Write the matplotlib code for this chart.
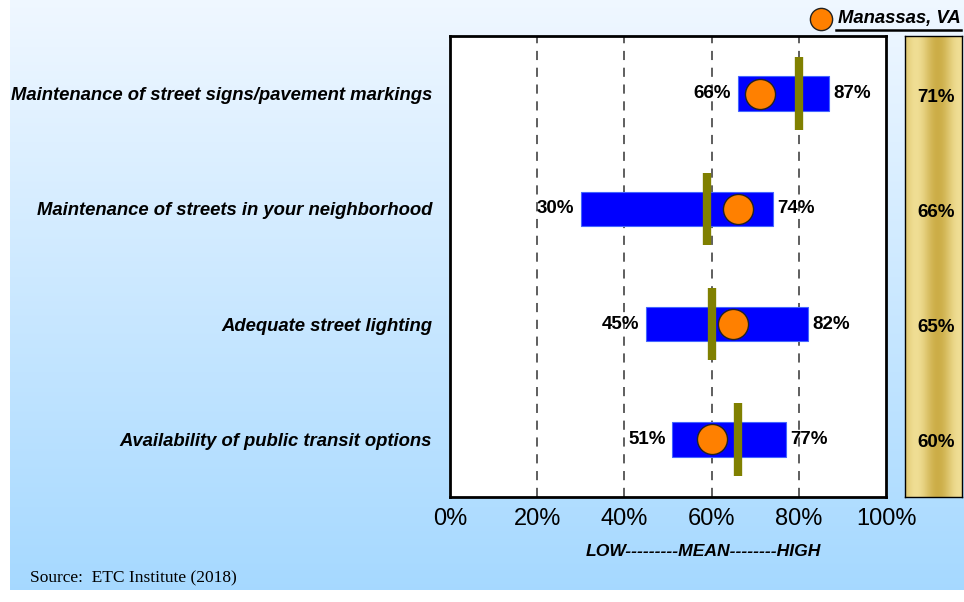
import numpy as np
import matplotlib.pyplot as plt

# data
items = ["Maintenance of street signs/pavement markings",
         "Maintenance of streets in your neighborhood",
         "Adequate street lighting",
         "Availability of public transit options"]
low = [66, 30, 45, 51]
high = [87, 74, 82, 77]
mean = [80, 59, 60, 66]
manassas = [71, 66, 65, 60]
ticks = [0, 20, 40, 60, 80, 100]

plt.rcParams['font.family'] = ['Liberation Sans', 'DejaVu Sans']

fig = plt.figure(figsize=(9.64, 6.02), dpi=100)
W, H = 964, 602

def fx(px):
    return px / W

def fy(py):
    return 1 - py / H

# background gradient (light at top, sky blue at bottom)
bg = fig.add_axes([fx(10), fy(590), fx(954), 590 / H], zorder=0)
top = np.array([0.94, 0.97, 1.0])
bot = np.array([0.65, 0.85, 1.0])
t = np.linspace(0, 1, 200)[:, None]
grad = top * (1 - t) + bot * t
bg.imshow(grad[:, None, :].repeat(2, axis=1), aspect='auto', extent=[0, 1, 0, 1])
bg.axis('off')

# main axes
ax = fig.add_axes([fx(450), fy(497), fx(436), 461 / H], zorder=2)
ax.set_facecolor('white')
ax.set_xlim(0, 100)
ax.set_ylim(0, 4)
ypos = [3.5, 2.5, 1.5, 0.5]

for g in ticks[1:-1]:
    ax.axvline(g, color='#333333', lw=1.1, ls=(0, (6, 5)), zorder=1)

ax.barh(ypos, [h - l for l, h in zip(low, high)], left=low, height=0.3,
        color='#0000FF', edgecolor='#4466FF', lw=0.8, zorder=2)
for y, m in zip(ypos, mean):
    ax.plot([m, m], [y - 0.315, y + 0.315], color='#808000', lw=6,
            solid_capstyle='butt', zorder=3)
ax.scatter(manassas, ypos, s=470, color='#FF8000', edgecolor='#222222',
           lw=1, zorder=4)

for y, l, h in zip(ypos, low, high):
    ax.text(l - 1.5, y, f"{l}%", ha='right', va='center', fontsize=13.5,
            fontweight='bold', zorder=5)
    ax.text(h + 1.0, y, f"{h}%", ha='left', va='center', fontsize=13.5,
            fontweight='bold', zorder=5)

ax.set_yticks(ypos)
ax.set_yticklabels(items, fontsize=13.3, fontweight='bold', style='italic')
ax.tick_params(axis='y', length=0, pad=13)
ax.set_xticks(ticks)
ax.set_xticklabels([f"{v}%" for v in ticks], fontsize=17)
ax.tick_params(axis='x', length=0, pad=8)
for s in ax.spines.values():
    s.set_linewidth(2)
    s.set_color('black')

# gold panel with Manassas values
gp = fig.add_axes([fx(905), fy(497), fx(57), 461 / H], zorder=2)
xs = np.linspace(0, 1, 100)
gold = np.array([0.80, 0.68, 0.28])
light = np.array([0.94, 0.87, 0.58])
shade = 0.5 + 0.5 * np.sin(xs * 2 * np.pi * 1.3)
row = gold * (1 - shade[:, None]) + light * shade[:, None]
gp.imshow(row[None, :, :].repeat(2, axis=0), aspect='auto', extent=[0, 1, 0, 4])
gp.set_xlim(0, 1)
gp.set_ylim(0, 4)
gp.set_xticks([])
gp.set_yticks([])
for s in gp.spines.values():
    s.set_linewidth(1)
for y, v in zip(ypos, manassas):
    gp.text(0.55, y - 0.03, f"{v}%", ha='center', va='center', fontsize=13.5,
            fontweight='bold')

# legend
fig.add_artist(plt.Line2D([fx(821)], [fy(19)], marker='o', markersize=16,
                          markerfacecolor='#FF8000', markeredgecolor='#222222',
                          markeredgewidth=1, linestyle='none'))
fig.text(fx(838), fy(18), "Manassas, VA", ha='left', va='center', fontsize=13.3,
         fontweight='bold', style='italic')
fig.add_artist(plt.Line2D([fx(836), fx(961)], [fy(30), fy(30)], color='black', lw=1.8))

fig.text(fx(703), fy(551), "LOW---------MEAN--------HIGH", ha='center', va='center',
         fontsize=12.6, fontweight='bold', style='italic')
fig.text(fx(30), fy(578), "Source:  ETC Institute (2018)", ha='left', va='center',
         fontsize=12.5, family='Liberation Serif')

fig.savefig('out.png', dpi=100)
